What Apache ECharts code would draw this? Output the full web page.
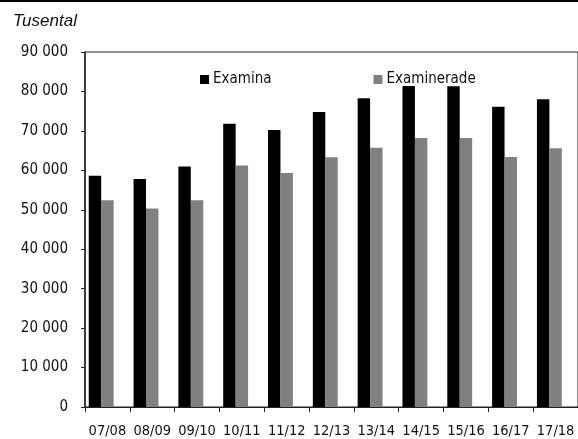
<!DOCTYPE html>
<html>
<head>
<meta charset="utf-8">
<script src="https://cdn.jsdelivr.net/npm/echarts@6/dist/echarts.min.js"></script>
<style>html,body{margin:0;padding:0;background:#fff}#c{width:578px;height:439px}</style>
</head>
<body>
<div id="c"></div>
<script>
const categories = ['07/08','08/09','09/10','10/11','11/12','12/13','13/14','14/15','15/16','16/17','17/18'];
const examina = [58600, 57800, 61000, 71800, 70200, 74800, 78300, 81400, 81300, 76100, 78000];
const examinerade = [52400, 50300, 52400, 61200, 59300, 63300, 65700, 68200, 68200, 63400, 65600];
const spacer = categories.map(() => null);
const yMin = 0, yMax = 90000, yStep = 10000;

const FONT = '"DejaVu Sans Condensed", sans-serif';
const chart = echarts.init(document.getElementById('c'), null, {renderer: 'canvas'});
chart.setOption({
  animation: false,
  backgroundColor: '#fff',
  textStyle: {fontFamily: FONT},
  graphic: [
    {type: 'line', shape: {x1: 0, y1: 1, x2: 578, y2: 1}, style: {stroke: '#000', lineWidth: 2}},
    {type: 'text', left: 13, top: 13, style: {text: 'Tusental', font: 'italic 17px "Liberation Sans", Arial, sans-serif', fill: '#111'}}
  ],
  legend: {
    data: ['Examina', 'Examinerade'],
    left: 200, top: 72, padding: 0,
    itemWidth: 9, itemHeight: 9, itemGap: 102,
    icon: 'rect',
    textStyle: {fontFamily: FONT, fontSize: 15, color: '#111', padding: [0,0,0,-1]}
  },
  grid: {left: 85, right: -1, top: 52, bottom: 32, show: true, borderColor: '#222', borderWidth: 1, containLabel: false},
  xAxis: {
    type: 'category', data: categories,
    axisLine: {lineStyle: {color: '#222', width: 1}},
    axisTick: {show: true, length: 5, lineStyle: {color: '#222'}},
    axisLabel: {fontFamily: FONT, fontSize: 14.5, color: '#111', margin: 17, interval: 0}
  },
  yAxis: {
    type: 'value', min: yMin, max: yMax, interval: yStep,
    axisLine: {show: true, lineStyle: {color: '#222', width: 1.5}},
    axisTick: {show: true, length: 4, lineStyle: {color: '#222'}},
    splitLine: {show: false},
    axisLabel: {fontFamily: FONT, fontSize: 15, color: '#111', margin: 17,
      formatter: v => v === 0 ? '0' : String(v).replace(/\B(?=(\d{3})+(?!\d))/g, ' ')}
  },
  series: [
    {name: 'Examina', type: 'bar', data: examina, itemStyle: {color: '#000'}, barGap: '0%', barCategoryGap: '16.7%'},
    {name: 'Examinerade', type: 'bar', data: examinerade, itemStyle: {color: '#808080'}},
    {name: 'spacer', type: 'bar', data: spacer, itemStyle: {color: 'rgba(0,0,0,0)'}}
  ]
});
</script>
</body>
</html>
